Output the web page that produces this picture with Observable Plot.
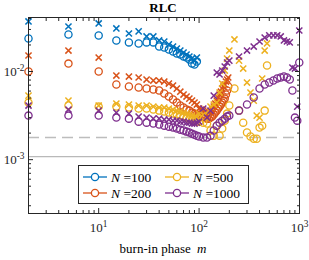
<!DOCTYPE html>
<html><head><meta charset="utf-8">
<script src="https://cdn.jsdelivr.net/npm/d3@7"></script>
<script src="https://cdn.jsdelivr.net/npm/@observablehq/plot@0.6"></script>
<style>body{margin:0;background:#fff} svg{font-family:"Liberation Serif",serif;overflow:visible}</style>
</head><body><div id="chart"></div>
<script>
// ---- data ----
const seriesNames = ["100", "200", "500", "1000"];
const seriesColors = ["#0072BD", "#D95319", "#EDB120", "#7E2F8E"];

const mN100 = [2,5,10,15,20,25,30,35,40,45,50,55,60,65,70,75,80,85,90,95];
const mN200 = [2,5,10,15,20,25,30,35,40,45,50,55,60,65,70,75,80,85,90,95,
  100,105,110,115,120,125,130,135,140,145,150,155,160,165,170,175,180,185,190,195];
const mN500 = [2,5,10,15,20,25,30,35,40,45,50,55,60,65,70,75,80,85,90,95,
  100,110,120,130,140,150,160,170,180,190,
  200,225,250,275,300,325,350,375,400,425,450,475];
const mN1000 = [2,5,10,15,20,25,30,35,40,45,50,55,60,65,70,75,80,85,90,95,
  100,110,120,130,140,150,160,170,180,190,
  200,250,300,350,400,450,500,550,600,650,700,750,800,850,900,950,995];

// circles
const circN100 = [0.0237,0.0263,0.0256,0.0225,0.0214,0.0208,0.0214,0.0214,0.0192,0.0187,
  0.0178,0.0169,0.0160,0.0156,0.0148,0.0144,0.0137,0.0123,0.0120,0.0130];
const circN200 = [0.0100,0.0123,0.0100,0.00712,0.00675,0.00658,0.00641,0.00624,0.00608,0.00562,
  0.0052,0.00481,0.00444,0.00411,0.0039,0.0037,0.0036,0.00342,0.00333,0.00325,
  0.00316,0.00308,0.0030,0.0030,0.00292,0.00292,0.0030,0.00308,0.00325,0.00342,
  0.0036,0.0038,0.0040,0.00422,0.00444,0.00468,0.00493,0.00548,0.00608,0.00675];
const circN500 = [0.00444,0.00411,0.0040,0.0040,0.0039,0.0038,0.0038,0.0037,0.0036,0.00351,
  0.00342,0.00333,0.00325,0.00316,0.00308,0.0030,0.00292,0.00285,0.00277,0.0027,
  0.0027,0.00263,0.00257,0.00214,0.00187,0.00243,0.00187,0.00225,0.00277,0.00333,
  0.00411,0.00641,0.0036,0.00263,0.00203,0.00183,0.00173,0.00173,0.00231,0.00243,0.0036,0.0117];
const circN1000 = [0.00316,0.00316,0.00316,0.0030,0.00292,0.0027,0.00263,0.00257,0.0025,0.00243,
  0.00237,0.00231,0.00225,0.00219,0.00214,0.00208,0.00203,0.00197,0.00192,0.00187,
  0.00183,0.00178,0.00178,0.00187,0.00214,0.00243,0.00263,0.00277,0.00292,0.00308,
  0.00316,0.0036,0.00422,0.00507,0.00641,0.00712,0.0075,0.0079,0.00833,0.00855,
  0.00877,0.00855,0.00811,0.00608,0.0030,0.00277,0.01266];

// crosses
const crossN100 = [0.0370,0.0324,0.0351,0.0308,0.0270,0.0285,0.0250,0.0250,0.0225,0.0219,
  0.0203,0.0192,0.0182,0.0173,0.0164,0.0156,0.0148,0.0141,0.0133,0.0144];
const crossN200 = [0.0152,0.0173,0.0144,0.0090,0.00877,0.00855,0.00811,0.0079,0.0079,0.0077,
  0.0073,0.00693,0.0064,0.0059,0.00548,0.0052,0.00493,0.00468,0.00444,0.00422,
  0.0038,0.0037,0.0036,0.00351,0.00342,0.00342,0.00351,0.0037,0.0040,0.00433,
  0.00468,0.00507,0.00548,0.0059,0.0064,0.00675,0.00712,0.0077,0.00811,0.00855];
const crossN500 = [0.00533,0.00468,0.00411,0.00433,0.00422,0.00411,0.00411,0.0040,0.0039,0.0039,
  0.0038,0.0037,0.0036,0.00351,0.00342,0.00333,0.00325,0.00316,0.00308,0.0030,
  0.00333,0.00325,0.00342,0.0040,0.00422,0.00444,0.00577,0.0073,0.01026,0.0140,
  0.0173,0.0231,0.0133,0.0108,0.0075,0.00577,0.00468,0.00316,0.0030,0.00833,0.0173,0.0208];
const crossN1000 = [0.00411,0.0037,0.0036,0.00342,0.00333,0.00308,0.0030,0.00292,0.00292,0.00285,
  0.00285,0.00277,0.00277,0.0027,0.0027,0.00263,0.00263,0.00257,0.00257,0.00263,
  0.0027,0.0038,0.0030,0.0036,0.00533,0.00974,0.00925,0.01026,0.0114,0.01266,
  0.0133,0.0148,0.0173,0.0192,0.0219,0.0243,0.0257,0.0257,0.0257,0.0250,
  0.0225,0.0219,0.0214,0.0111,0.0108,0.0040,0.0292];

const refSolid = [0.00108];
const refDashed = [0.00178];

const xMajor = [10, 100, 1000];
const xMinor = [2,3,4,5,6,7,8,9,20,30,40,50,60,70,80,90,200,300,400,500,600,700,800,900];
const yMajor = [0.001, 0.01];
const yMinor = [0.0003,0.0004,0.0005,0.0006,0.0007,0.0008,0.0009,
  0.002,0.003,0.004,0.005,0.006,0.007,0.008,0.009,0.02,0.03,0.04];

const titleText = "RLC";
const xLabelText = "burn-in phase ";
const xLabelVar = "m";

// ---- build ----
const mList = [mN100, mN200, mN500, mN1000];
const circList = [circN100, circN200, circN500, circN1000];
const crossList = [crossN100, crossN200, crossN500, crossN1000];
const rows = (ms, vs) => ms.map((m, i) => ({m, v: vs[i]}));

const fmt = d => "10^" + Math.round(Math.log10(d));
const blank = () => "";
const axisColor = "#262626";

const dotMarks = [];
seriesNames.forEach((n, i) => {
  dotMarks.push(Plot.dot(rows(mList[i], circList[i]), {x: "m", y: "v", r: 3.6, stroke: seriesColors[i], strokeWidth: 1.3, fill: "none"}));
  dotMarks.push(Plot.dot(rows(mList[i], crossList[i]), {x: "m", y: "v", symbol: "times", r: 2.9, stroke: seriesColors[i], strokeWidth: 1.5}));
});

const chart = Plot.plot({
  width: 309, height: 260,
  marginLeft: 28, marginRight: 10, marginTop: 17, marginBottom: 47,
  style: {fontFamily: "Liberation Serif, serif", background: "white"},
  x: {type: "log", domain: [2, 1000]},
  y: {type: "log", domain: [2.45e-4, 0.041]},
  marks: [
    Plot.ruleY(refSolid, {stroke: "#a8a8a8", strokeWidth: 1}),
    Plot.ruleY(refDashed, {stroke: "#bdbdbd", strokeWidth: 1.5, strokeDasharray: "11,6"}),
    ...dotMarks,
    Plot.axisX({anchor: "bottom", ticks: xMajor, tickSize: -5, tickPadding: 14, tickFormat: fmt, fontSize: 13, label: null, stroke: axisColor, fill: axisColor}),
    Plot.axisX({anchor: "bottom", ticks: xMinor, tickSize: -3, tickFormat: blank, label: null, stroke: axisColor}),
    Plot.axisX({anchor: "top", ticks: xMajor, tickSize: -5, tickFormat: blank, label: null, stroke: axisColor}),
    Plot.axisX({anchor: "top", ticks: xMinor, tickSize: -3, tickFormat: blank, label: null, stroke: axisColor}),
    Plot.axisY({anchor: "left", ticks: yMajor, tickSize: -5, tickPadding: 9, tickFormat: fmt, fontSize: 13, label: null, stroke: axisColor, fill: axisColor}),
    Plot.axisY({anchor: "left", ticks: yMinor, tickSize: -3, tickFormat: blank, label: null, stroke: axisColor}),
    Plot.axisY({anchor: "right", ticks: yMajor, tickSize: -5, tickFormat: blank, label: null, stroke: axisColor}),
    Plot.axisY({anchor: "right", ticks: yMinor, tickSize: -3, tickFormat: blank, label: null, stroke: axisColor}),
    Plot.frame({stroke: axisColor, strokeWidth: 1})
  ]
});
document.getElementById("chart").appendChild(chart);

const svg = d3.select(chart);
// superscripts in tick labels
svg.selectAll("text").each(function() {
  const s = this.textContent;
  const k = s.indexOf("^");
  if (k < 0) return;
  const t = d3.select(this);
  t.text(s.slice(0, k));
  t.append("tspan").attr("dy", "-0.5em").attr("font-size", "0.72em").text(s.slice(k + 1));
});

// title
svg.append("text").attr("x", 163).attr("y", 12).attr("text-anchor", "middle")
  .attr("font-size", 13).attr("font-weight", "bold").attr("fill", "#000").text(titleText);

// x label
const xl = svg.append("text").attr("x", 163).attr("y", 253).attr("text-anchor", "middle")
  .attr("font-size", 13).attr("fill", "#000");
xl.append("tspan").text(xLabelText);
xl.append("tspan").attr("font-style", "italic").attr("dx", 3).text(xLabelVar);

// legend
const lg = svg.append("g").attr("text-anchor", "start");
lg.append("rect").attr("x", 78.5).attr("y", 165.5).attr("width", 170).attr("height", 38)
  .attr("fill", "white").attr("stroke", axisColor).attr("stroke-width", 1);
seriesNames.forEach((n, i) => {
  const col = i < 2 ? 0 : 1, row = i % 2;
  const x0 = col === 0 ? 83 : 165;
  const y0 = row === 0 ? 177 : 193;
  lg.append("line").attr("x1", x0).attr("x2", x0 + 24).attr("y1", y0).attr("y2", y0)
    .attr("stroke", seriesColors[i]).attr("stroke-width", 1.3);
  lg.append("circle").attr("cx", x0 + 12).attr("cy", y0).attr("r", 3.6)
    .attr("fill", "white").attr("stroke", seriesColors[i]).attr("stroke-width", 1.3);
  const t = lg.append("text").attr("x", x0 + 28).attr("y", y0 + 4.5).attr("text-anchor", "start")
    .attr("font-size", 13.5).attr("fill", "#000");
  t.append("tspan").attr("font-style", "italic").text("N");
  t.append("tspan").text(" =" + n);
});
</script></body></html>
